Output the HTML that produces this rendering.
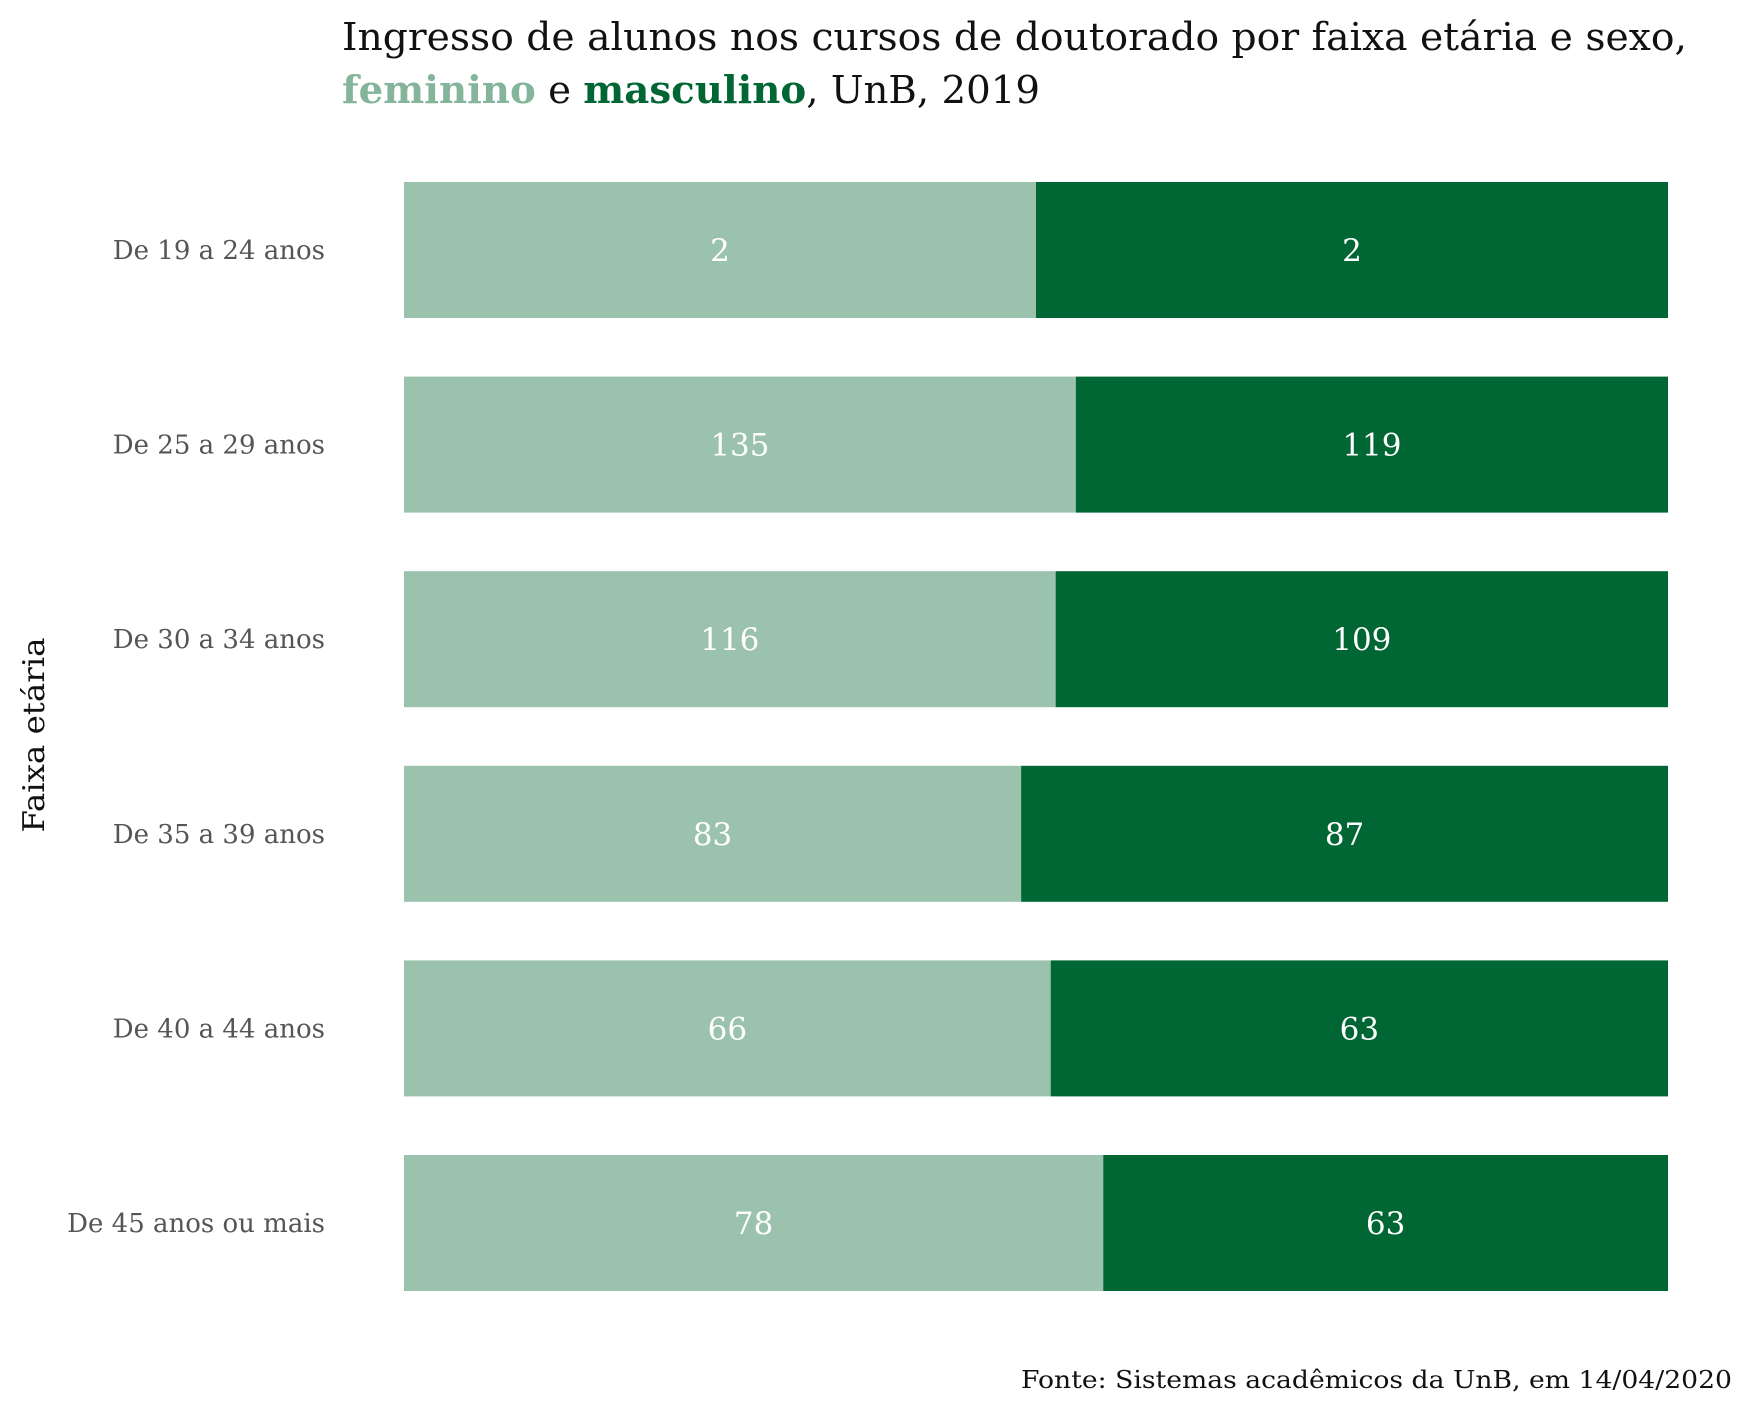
<!DOCTYPE html>
<html><head><meta charset="utf-8"><style>
body{margin:0;background:#fff;}
svg{display:block;font-family:"DejaVu Serif","Liberation Serif",serif;}
</style></head><body>
<svg id="chart" width="1750" height="1410" viewBox="0 0 1750 1410">
<text x="342" y="50" font-size="38" fill="#111" textLength="1345" lengthAdjust="spacingAndGlyphs">Ingresso de alunos nos cursos de doutorado por faixa etária e sexo,</text>
<text x="342" y="103" font-size="38" fill="#111" textLength="698" lengthAdjust="spacingAndGlyphs"><tspan fill="#84b59a" font-weight="bold">feminino</tspan> e <tspan fill="#006633" font-weight="bold">masculino</tspan>, UnB, 2019</text>
<text transform="translate(44,735) rotate(-90)" text-anchor="middle" font-size="30" fill="#111" textLength="195" lengthAdjust="spacingAndGlyphs">Faixa etária</text>
<text x="1732" y="1388" text-anchor="end" font-size="24" fill="#111" textLength="711" lengthAdjust="spacingAndGlyphs">Fonte: Sistemas acadêmicos da UnB, em 14/04/2020</text>
<g id="bars"></g>
</svg>
<script>
const categories=["De 19 a 24 anos","De 25 a 29 anos","De 30 a 34 anos","De 35 a 39 anos","De 40 a 44 anos","De 45 anos ou mais"];
const feminino=[2,135,116,83,66,78];
const masculino=[2,119,109,87,63,63];
const NS="http://www.w3.org/2000/svg";
const g=document.getElementById('bars');
const x0=404,x1=1668,top0=182,pitch=194.6,bh=136;
const xs=f=>x0+f*(x1-x0);
const yb=i=>top0+i*pitch;
function mk(t,a){const e=document.createElementNS(NS,t);for(const k in a)e.setAttribute(k,a[k]);g.appendChild(e);return e;}
categories.forEach((c,i)=>{
 const tot=feminino[i]+masculino[i], fr=feminino[i]/tot, y=yb(i), cy=y+bh/2;
 const r1=mk('rect',{x:xs(0),y:y,width:xs(fr)-xs(0),height:bh,fill:'#9bc2ad'});
 
 
 const r2=mk('rect',{x:xs(fr),y:y,width:xs(1)-xs(fr),height:bh,fill:'#006633'});
 
 
 const t1=mk('text',{x:(xs(0)+xs(fr))/2,y:cy+11,'text-anchor':'middle','font-size':31,fill:'#fff'});
 t1.textContent=feminino[i];
 
 
 const t2=mk('text',{x:(xs(fr)+xs(1))/2,y:cy+11,'text-anchor':'middle','font-size':31,fill:'#fff'});
 t2.textContent=masculino[i];
 
 
 const l=mk('text',{x:325,y:cy+9,'text-anchor':'end','font-size':26,fill:'#555'});
 l.textContent=c;
 
 
});
</script>
</body></html>
